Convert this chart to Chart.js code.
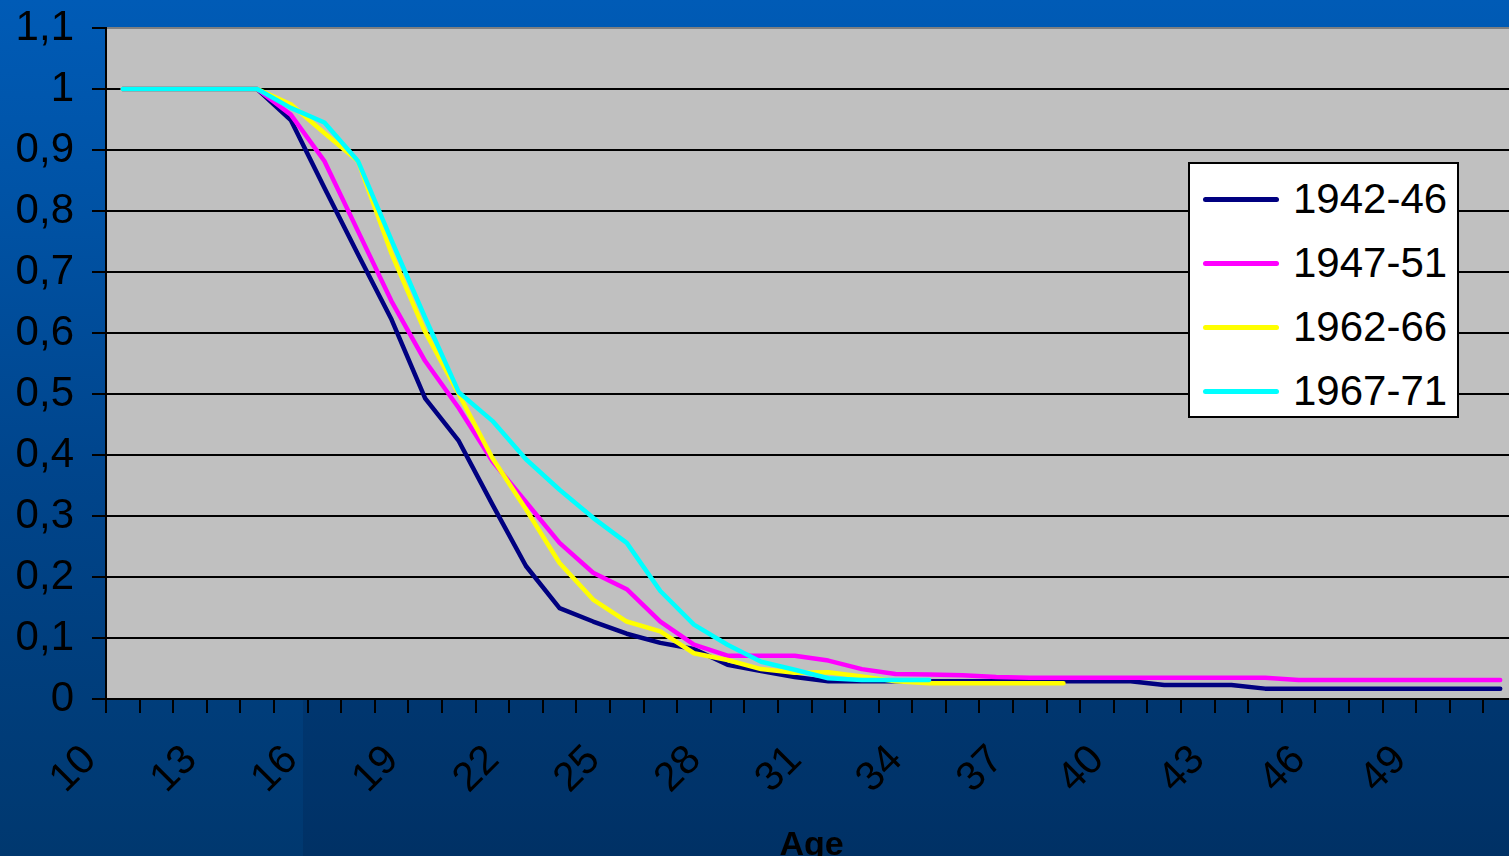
<!DOCTYPE html>
<html>
<head>
<meta charset="utf-8">
<script src="https://cdn.jsdelivr.net/npm/chart.js@4.4.0/dist/chart.umd.min.js"></script>
<style>
  html, body { margin: 0; padding: 0; width: 1509px; height: 856px; overflow: hidden; }
  body {
    position: relative;
    background: linear-gradient(#005bb6 0%, #0052a4 25%, #00458c 55%, #00386f 100%);
    font-family: "Liberation Sans", Arial, sans-serif;
  }
  #shade { position: absolute; left: 303px; top: 28px; right: 0; bottom: 0; background: rgba(0, 10, 40, 0.13); }
  #wrap { position: absolute; left: 0; top: 0; width: 1509px; height: 856px; overflow: hidden; }
  #legend {
    position: absolute; left: 1188px; top: 162px; width: 271px; height: 256px;
    box-sizing: border-box; border: 2px solid #000; background: #fff; padding-top: 3px;
  }
  #legend .row { display: flex; align-items: center; height: 64px; font-size: 42px; line-height: 64px; color: #000; }
  #legend .swatch { display: inline-block; width: 76px; height: 5px; border-radius: 3px; margin-left: 13px; margin-right: 14px; }
</style>
</head>
<body>
<div id="shade"></div>
<div id="wrap">
  <canvas id="chart" width="1530" height="870"></canvas>
</div>
<div id="legend"></div>
<script>
// ages on the x axis
const ages = [10, 11, 12, 13, 14, 15, 16, 17, 18, 19, 20, 21, 22, 23, 24, 25, 26, 27, 28, 29,
  30, 31, 32, 33, 34, 35, 36, 37, 38, 39, 40, 41, 42, 43, 44, 45, 46, 47, 48, 49, 50, 51];

// y tick labels (comma decimals)
const yTickLabels = ['0', '0,1', '0,2', '0,3', '0,4', '0,5', '0,6', '0,7', '0,8', '0,9', '1', '1,1'];

const seriesNames = ['1942-46', '1947-51', '1962-66', '1967-71'];

// share still in the state, by age
const s1942 = [1, 1, 1, 1, 1, 0.949, 0.838, 0.729, 0.622, 0.493,
  0.423, 0.319, 0.218, 0.149, 0.127, 0.107, 0.092, 0.082, 0.056, 0.046,
  0.036, 0.029, 0.029, 0.029, 0.029, 0.029, 0.029, 0.029, 0.029, 0.029,
  0.029, 0.023, 0.023, 0.023, 0.017, 0.017, 0.017, 0.017, 0.017, 0.017,
  0.017, 0.017];
const s1947 = [1, 1, 1, 1, 1, 0.958, 0.882, 0.767, 0.652, 0.554,
  0.477, 0.390, 0.323, 0.256, 0.207, 0.180, 0.127, 0.089, 0.071, 0.071,
  0.071, 0.063, 0.049, 0.041, 0.040, 0.039, 0.036, 0.035, 0.035, 0.035,
  0.035, 0.035, 0.035, 0.035, 0.035, 0.031, 0.031, 0.031, 0.031, 0.031,
  0.031, 0.031];
const s1962 = [1, 1, 1, 1, 1, 0.975, 0.928, 0.882, 0.730, 0.602,
  0.500, 0.395, 0.311, 0.223, 0.163, 0.127, 0.111, 0.075, 0.064, 0.049,
  0.043, 0.044, 0.037, 0.029, 0.026, 0.026, 0.026, 0.026, 0.026];
const s1967 = [1, 1, 1, 1, 1, 0.969, 0.945, 0.882, 0.752, 0.625,
  0.503, 0.456, 0.393, 0.343, 0.297, 0.256, 0.177, 0.122, 0.089, 0.061,
  0.048, 0.034, 0.031, 0.031, 0.031];

const colors = ['#000080', '#ff00ff', '#ffff00', '#00ffff'];
const FONT = '"Liberation Sans", Arial, sans-serif';

// grey plot area
const plotBg = {
  id: 'plotBg',
  beforeDraw(chart) {
    const { ctx, chartArea: a } = chart;
    ctx.save();
    ctx.fillStyle = '#c0c0c0';
    ctx.fillRect(a.left, a.top, a.right - a.left, a.bottom - a.top);
    ctx.restore();
  }
};

function makeSet(i, data) {
  return {
    label: seriesNames[i],
    data: data,
    borderColor: colors[i],
    backgroundColor: colors[i],
    borderWidth: 4.5,
    borderCapStyle: 'round',
    borderJoinStyle: 'round',
    pointRadius: 0,
    tension: 0,
    order: 4 - i
  };
}

// no extra room for overhanging labels, the plot box is fixed
function noPad(s) {
  s.paddingTop = 0; s.paddingBottom = 0; s.paddingLeft = 0; s.paddingRight = 0;
}

const chart = new Chart(document.getElementById('chart'), {
  type: 'line',
  data: {
    labels: ages,
    datasets: [makeSet(0, s1942), makeSet(1, s1947), makeSet(2, s1962), makeSet(3, s1967)]
  },
  plugins: [plotBg],
  options: {
    responsive: false,
    animation: false,
    devicePixelRatio: 1,
    layout: { padding: { top: 28, right: 13, left: 0, bottom: 0 } },
    plugins: { legend: { display: false }, tooltip: { enabled: false } },
    scales: {
      x: {
        offset: true,
        afterFit(s) { s.height = 171; noPad(s); },
        grid: { offset: true, drawOnChartArea: false, color: '#000', lineWidth: 2, tickLength: 14 },
        border: { color: '#000', width: 2 },
        ticks: {
          autoSkip: false, maxRotation: 45, minRotation: 45,
          labelOffset: -33, padding: 23, color: '#000',
          font: { size: 41, family: FONT },
          callback: (v, i) => (i % 3 === 0 ? String(ages[i]) : '')
        },
        title: {
          display: true, text: 'Age', color: '#000',
          font: { size: 34, weight: 'bold', family: FONT },
          padding: { top: 0, bottom: 4 }
        }
      },
      y: {
        min: 0, max: 1.1,
        afterFit(s) { s.width = 106; noPad(s); },
        grid: {
          color: ctx => (ctx.index === 11 ? '#808080' : '#000'),
          tickColor: '#000', lineWidth: 2, tickLength: 14
        },
        border: { color: '#000', width: 2 },
        ticks: {
          stepSize: 0.1, padding: 18, color: '#000',
          font: { size: 42, family: FONT },
          callback: (v, i) => yTickLabels[i]
        }
      }
    }
  }
});

// legend box inside the plot
const legend = document.getElementById('legend');
chart.data.datasets.forEach(ds => {
  const row = document.createElement('div');
  row.className = 'row';
  row.innerHTML = '<span class="swatch" style="background:' + ds.borderColor + '"></span><span>' + ds.label + '</span>';
  legend.appendChild(row);
});
</script>
</body>
</html>
